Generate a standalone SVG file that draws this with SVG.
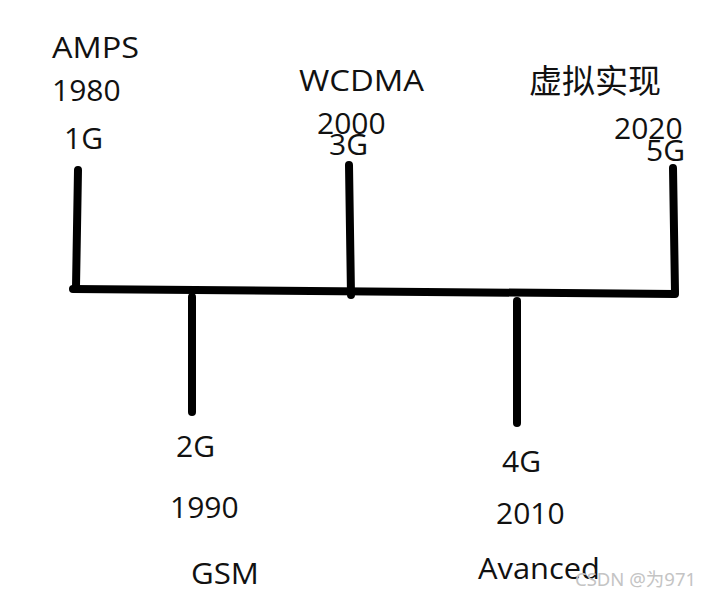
<svg xmlns="http://www.w3.org/2000/svg" width="710" height="599" viewBox="0 0 710 599">
<style>
.t{font-family:"Open Sans","Noto Sans","Noto Sans CJK SC",sans-serif;font-size:30px;fill:#111}
.c{font-family:"Noto Sans CJK SC",sans-serif;font-size:33px;fill:#111}
.l{stroke:#000;stroke-width:8;stroke-linecap:round;fill:none}
.w{font-family:"Noto Sans","Noto Sans CJK SC",sans-serif;font-size:18.5px;fill:#c4c4c4}
</style>
<rect width="710" height="599" fill="#fff"/>
<g id="connectors">
<path class="l" d="M73,289 L675,294"/>
<path class="l" d="M78,170 L76,287"/>
<path class="l" d="M349,165 L351,295"/>
<path class="l" d="M673,168 L675,292"/>
<path class="l" d="M192,297 L192,412"/>
<path class="l" d="M517,301 L517,423"/>
</g>
<g id="n1g"><text class="t" x="52" y="58" textLength="87" lengthAdjust="spacingAndGlyphs">AMPS</text><text class="t" x="52" y="101">1980</text><text class="t" x="64" y="149">1G</text></g>
<g id="n3g"><text class="t" x="299" y="91" textLength="125" lengthAdjust="spacingAndGlyphs">WCDMA</text><text class="t" x="317" y="134">2000</text><text class="t" x="329" y="155">3G</text></g>
<g id="n5g"><text class="c" x="529" y="93">虚拟实现</text><text class="t" x="614" y="139">2020</text><text class="t" x="646" y="161">5G</text></g>
<g id="n2g"><text class="t" x="176" y="457">2G</text><text class="t" x="170" y="518">1990</text><text class="t" x="191" y="584" textLength="68" lengthAdjust="spacingAndGlyphs">GSM</text></g>
<g id="n4g"><text class="t" x="502" y="472">4G</text><text class="t" x="496" y="524">2010</text><text class="t" x="478" y="579" textLength="122" lengthAdjust="spacingAndGlyphs">Avanced</text></g>
<text class="w" x="575" y="586">CSDN @为971</text>
</svg>
